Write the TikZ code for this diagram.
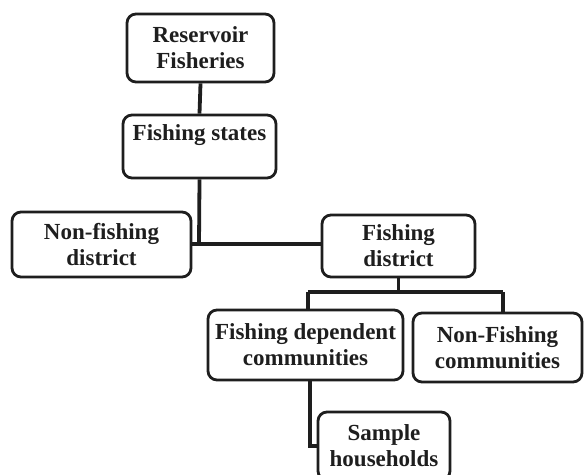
\documentclass[tikz,border=0pt]{standalone}
\usepackage{fontspec}
\setmainfont{Liberation Serif}
\definecolor{ink}{HTML}{1E1E1E}
\begin{document}
\begin{tikzpicture}[x=1pt,y=-1pt,
  box/.style={draw=ink, line width=2.8pt, rounded corners=9pt, align=center,
    inner sep=0pt, text=ink, font=\fontsize{23}{26}\selectfont\bfseries},
  conn/.style={draw=ink, line width=3.8pt}]
\useasboundingbox[fill=white] (0,0) rectangle (585,474);
\node[box, minimum width=147pt, minimum height=68pt] (res) at (200.5,48) {Reservoir\\Fisheries};
\node[box, minimum width=153pt, minimum height=63pt, text height=15pt, text depth=28pt] (states) at (199.5,146.5) {Fishing states};
\node[box, minimum width=179pt, minimum height=65pt] (nonfish) at (101.5,244.5) {Non-fishing\\district};
\node[box, minimum width=153pt, minimum height=62pt] (fdist) at (398.5,246) {Fishing\\district};
\node[box, minimum width=195pt, minimum height=70pt] (fdep) at (305.5,345) {Fishing dependent\\communities};
\node[box, minimum width=169pt, minimum height=69pt] (nonfcom) at (497.5,347.5) {Non-Fishing\\communities};
\node[box, minimum width=132pt, minimum height=68pt] (sample) at (384,446) {Sample\\households};
\coordinate (j1) at (199,244);
\coordinate (j2) at (398.5,292);
\coordinate (jl) at (308,292);
\coordinate (jr) at (503,292);
\draw[conn] (res.south) -- (states.north);
\draw[conn] (states.south) -- (j1);
\draw[conn] (nonfish.east |- j1) -- (fdist.west |- j1);
\draw[conn] (fdist.south) -- (j2);
\draw[conn] (jl) -- (jr);
\draw[conn] (jl) -- (jl |- fdep.north);
\draw[conn] (jr) -- (jr |- nonfcom.north);
\draw[conn] ([xshift=4.5pt]fdep.south) |- (sample.west);
\end{tikzpicture}
\end{document}
